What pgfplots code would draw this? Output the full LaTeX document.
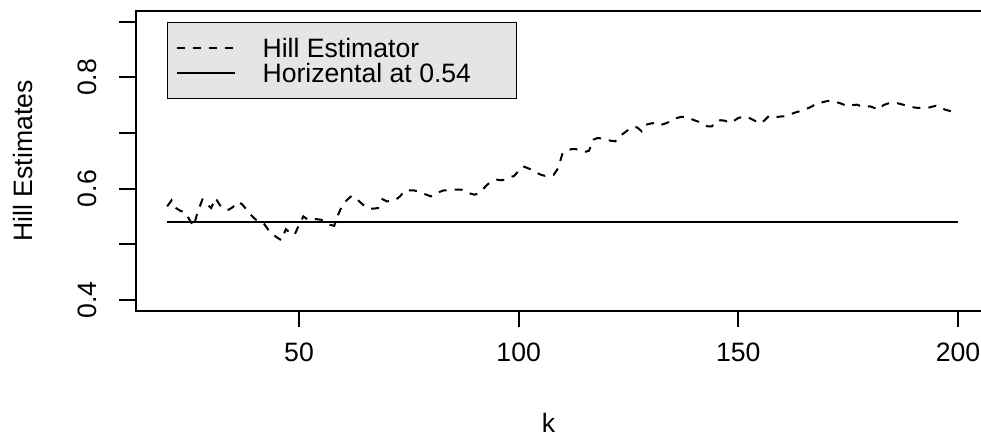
\documentclass[border=0pt]{standalone}
\usepackage{fontspec}
\setmainfont{Liberation Sans}
\usepackage{pgfplots}
\usepackage{pgfplotstable}
\pgfplotsset{compat=1.18}
\pgfplotstableread{
k v
20 0.568
21 0.579
22 0.565
23 0.560
24 0.558
25 0.545
26 0.532
27 0.560
28 0.580
29 0.572
30 0.565
31 0.583
32 0.570
33 0.562
34 0.562
35 0.567
36 0.576
37 0.572
38 0.563
39 0.553
40 0.545
41 0.541
42 0.537
43 0.526
44 0.518
45 0.512
46 0.507
47 0.527
48 0.520
49 0.517
50 0.535
51 0.550
52 0.544
53 0.545
54 0.545
55 0.544
56 0.540
57 0.535
58 0.533
59 0.555
60 0.572
61 0.580
62 0.587
63 0.582
64 0.575
65 0.568
66 0.564
67 0.564
68 0.565
69 0.581
70 0.577
71 0.578
72 0.580
73 0.586
74 0.596
75 0.597
76 0.597
77 0.595
78 0.592
79 0.589
80 0.586
81 0.590
82 0.594
83 0.597
84 0.597
85 0.598
86 0.598
87 0.598
88 0.593
89 0.591
90 0.589
91 0.592
92 0.600
93 0.608
94 0.613
95 0.616
96 0.615
97 0.616
98 0.620
99 0.623
100 0.632
101 0.640
102 0.637
103 0.634
104 0.629
105 0.625
106 0.623
107 0.624
108 0.625
109 0.637
110 0.664
111 0.668
112 0.671
113 0.671
114 0.669
115 0.666
116 0.668
117 0.688
118 0.691
119 0.690
120 0.688
121 0.686
122 0.685
123 0.694
124 0.700
125 0.706
126 0.711
127 0.710
128 0.703
129 0.715
130 0.717
131 0.718
132 0.714
133 0.716
134 0.719
135 0.723
136 0.727
137 0.729
138 0.729
139 0.726
140 0.723
141 0.720
142 0.716
143 0.712
144 0.712
145 0.722
146 0.723
147 0.722
148 0.718
149 0.722
150 0.727
151 0.729
152 0.729
153 0.725
154 0.721
155 0.717
156 0.723
157 0.731
158 0.730
159 0.729
160 0.730
161 0.730
162 0.734
163 0.737
164 0.739
165 0.742
166 0.745
167 0.749
168 0.754
169 0.755
170 0.757
171 0.758
172 0.756
173 0.754
174 0.751
175 0.748
176 0.750
177 0.751
178 0.748
179 0.747
180 0.748
181 0.745
182 0.742
183 0.750
184 0.753
185 0.754
186 0.754
187 0.752
188 0.750
189 0.748
190 0.746
191 0.745
192 0.745
193 0.745
194 0.747
195 0.749
196 0.748
197 0.742
198 0.740
199 0.737
200 0.734
}\hill
\begin{document}
\begin{tikzpicture}[font=\fontsize{13.3}{16}\selectfont]
\useasboundingbox (-67.8pt,-65.45pt) rectangle (422.7pt,155.45pt);
\clip (-67.8pt,-65.45pt) rectangle (422.7pt,155.45pt);
\begin{axis}[
  at={(0pt,0pt)}, anchor=south west,
  scale only axis, width=427pt, height=150.1pt,
  xmin=12.8, xmax=207.2, ymin=0.38, ymax=0.92,
  axis line style={line width=1pt},
  tick style={line width=1pt, black},
  major tick length=8.3pt,
  tick align=outside,
  xtick pos=lower, ytick pos=left,
  xtick={50,100,150,200},
  ytick={0.4,0.5,0.6,0.7,0.8,0.9},
  yticklabels={0.4,,0.6,,0.8,},
  /pgf/number format/assume math mode=true,
  ticklabel style={font=\fontsize{13.3}{16}\selectfont},
  xticklabel style={anchor=base, inner sep=0pt, yshift=-17.2pt},
  yticklabel style={xshift=-10.7pt, rotate=90, anchor=south, inner sep=0pt},
  xlabel={k},
  ylabel={Hill Estimates},
  label style={font=\fontsize{13.3}{16}\selectfont},
  xlabel style={at={([xshift=-7pt,yshift=-61pt]axis description cs:0.5,0)}, anchor=base, inner sep=0pt},
  ylabel style={at={([xshift=-51.3pt]axis description cs:0,0.5)}, anchor=base, inner sep=0pt},
  legend style={at={([xshift=15.85pt,yshift=-5.7pt]rel axis cs:0,1)}, anchor=north west,
    fill=black!10, draw=black, line width=0.6pt,
    inner xsep=3.85pt, inner ysep=6.5pt, row sep=0pt, column sep=13.5pt,
    nodes={inner sep=0pt, anchor=west},
    font=\fontsize{13.3}{16}\selectfont},
  legend image code/.code={\draw[#1] (0pt,0pt) -- (29pt,0pt);},
]
\addplot[black, line width=1pt, dash pattern=on 4pt off 4pt] table[x=k, y=v] {\hill};
\addlegendentry{\rule[-1.5pt]{0pt}{12.5pt}\makebox[123.2pt][l]{Hill Estimator}}
\addplot[black, line width=1pt] coordinates {(20,0.54) (200,0.54)};
\addlegendentry{\rule[-1.5pt]{0pt}{12.5pt}\makebox[123.2pt][l]{Horizental at 0.54}}
\end{axis}
\end{tikzpicture}
\end{document}
